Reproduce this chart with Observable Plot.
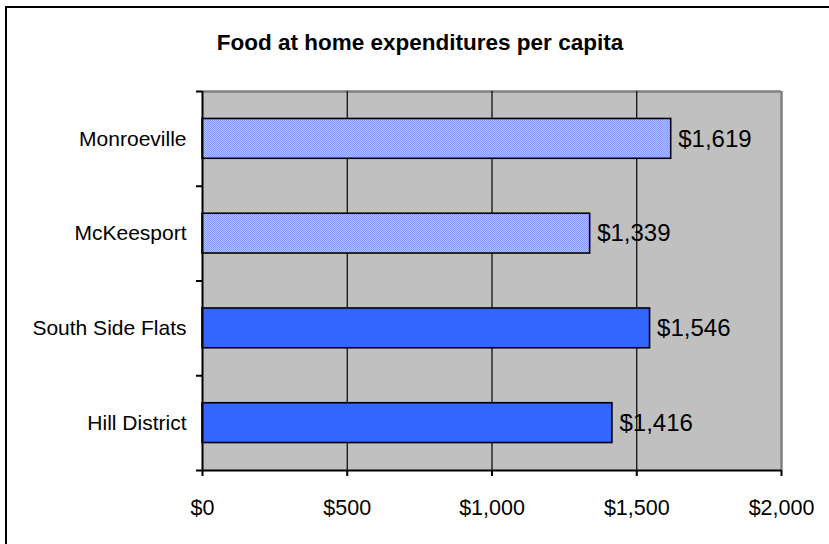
<!DOCTYPE html>
<html>
<head>
<meta charset="utf-8">
<script src="https://cdn.jsdelivr.net/npm/d3@7"></script>
<script src="https://cdn.jsdelivr.net/npm/@observablehq/plot@0.6"></script>
<style>
  html, body { margin: 0; padding: 0; background: #fff; overflow: hidden; }
  #wrap { position: relative; width: 829px; height: 544px; font-family: "Liberation Sans", Arial, sans-serif; }
  #border { position: absolute; left: 5px; top: 6px; width: 900px; height: 700px; border-left: 2px solid #000; border-top: 2px solid #000; pointer-events: none; }
  #title { position: absolute; left: 0; width: 840px; top: 30px; text-align: center; font-weight: bold; font-size: 22.5px; color: #000; }
  #chart { position: absolute; left: 0; top: 0; }
</style>
</head>
<body>
<div id="wrap">
  <div id="chart"></div>
  <div id="title">Food at home expenditures per capita</div>
  <div id="border"></div>
</div>
<script>
// Data (bottom to top)
const categories = ["Hill District", "South Side Flats", "McKeesport", "Monroeville"];
const values = [1416, 1546, 1339, 1619];
const patterned = [false, false, true, true];
const xTicks = [0, 500, 1000, 1500, 2000];

const data = categories.map((c, i) => ({ name: c, idx: i, value: values[i], pat: patterned[i] }));
const money = d3.format("$,.0f");

const plot = Plot.plot({
  width: 829,
  height: 544,
  marginLeft: 202,
  marginRight: 48,
  marginTop: 91,
  marginBottom: 74,
  style: { fontFamily: "'Liberation Sans', Arial, sans-serif", color: "#000", background: "transparent" },
  x: { domain: [0, 2000] },
  y: { domain: [0, 4] },
  marks: [
    Plot.frame({ fill: "#c0c0c0", stroke: "none" }),
    Plot.ruleY([4], { stroke: "#808080", strokeWidth: 2.5 }),
    Plot.ruleX([2000], { stroke: "#808080", strokeWidth: 2.5 }),
    Plot.ruleX([500, 1000, 1500], { stroke: "#000", strokeWidth: 1.2 }),
    Plot.rectX(data, {
      x1: 0, x2: "value",
      y1: d => d.idx + 0.29, y2: d => d.idx + 0.71,
      fill: d => d.pat ? "url(#chk)" : "#3366ff",
      stroke: "#000", strokeWidth: 1.6
    }),
    Plot.ruleX([0], { stroke: "#000", strokeWidth: 2 }),
    Plot.ruleY([0], { stroke: "#000", strokeWidth: 2 }),
    Plot.text(data, {
      x: "value", y: d => d.idx + 0.5, text: d => money(d.value),
      textAnchor: "start", dx: 7, fontSize: 24, fill: "#000"
    }),
    Plot.axisX({ ticks: xTicks, tickFormat: money, tickSize: 6, tickPadding: 23, fontSize: 21.5, label: null, strokeWidth: 2 }),
    Plot.axisY({ ticks: [0, 1, 2, 3, 4], tickFormat: () => "", tickSize: 6, label: null, strokeWidth: 2 }),
    Plot.axisY({ ticks: [0.5, 1.5, 2.5, 3.5], tickFormat: v => categories[Math.floor(v)], tickSize: 0, tickPadding: 16, fontSize: 21, label: null })
  ]
});

// checker pattern for the lighter bars
const svg = d3.select(plot);
const defs = svg.insert("defs", ":first-child");
const pat = defs.append("pattern").attr("id", "chk").attr("patternUnits", "userSpaceOnUse")
  .attr("width", 2).attr("height", 2);
pat.append("rect").attr("width", 2).attr("height", 2).attr("fill", "#b4c2ff");
pat.append("rect").attr("width", 1).attr("height", 1).attr("fill", "#8099ff");
pat.append("rect").attr("x", 1).attr("y", 1).attr("width", 1).attr("height", 1).attr("fill", "#8099ff");

document.getElementById("chart").appendChild(plot);
</script>
</body>
</html>
